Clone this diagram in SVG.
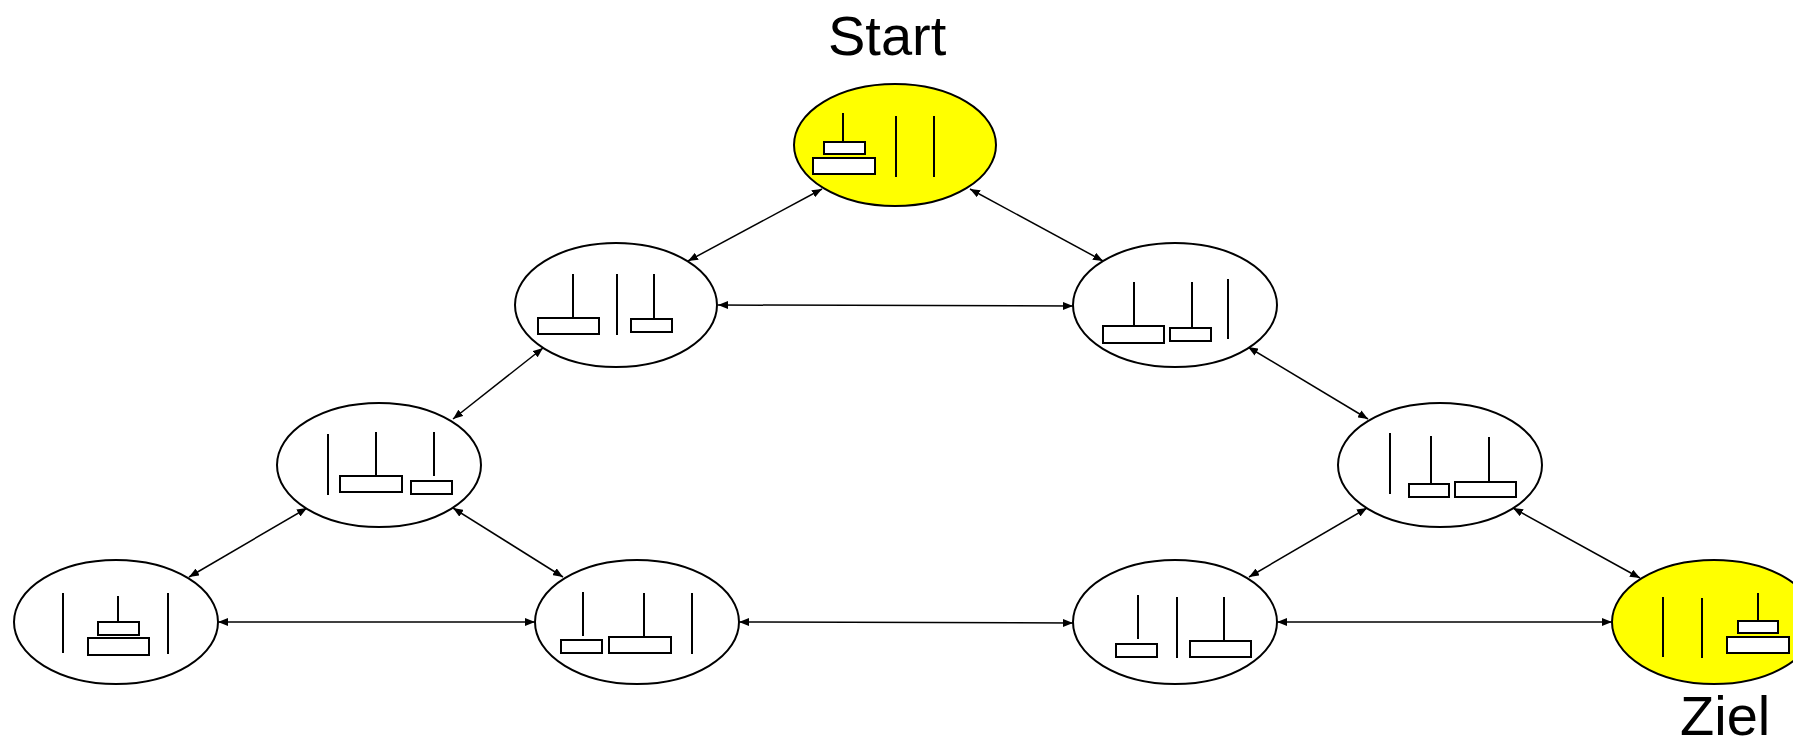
<svg xmlns="http://www.w3.org/2000/svg" width="1793" height="740" viewBox="0 0 1793 740">
<defs>
<style>
.node ellipse{stroke:#000;stroke-width:2;fill:#fff}
.node.goal ellipse{fill:#ffff00}
.node line{stroke:#000;stroke-width:2}
.node rect{stroke:#000;stroke-width:2;fill:#fff}
.edges line{stroke:#000;stroke-width:1.5;marker-start:url(#ah);marker-end:url(#ah)}
.lbl{font-family:"Liberation Sans",Arial,sans-serif;font-size:56px;fill:#000}
</style>
<marker id="ah" viewBox="0 0 10 8" refX="10" refY="4" markerWidth="10" markerHeight="8" markerUnits="userSpaceOnUse" orient="auto-start-reverse">
<path d="M0,0 L10,4 L0,8 Z" fill="#000"/>
</marker>
</defs>
<rect width="1793" height="740" fill="#fff"/>
<g class="edges">
<line x1="688" y1="261" x2="822" y2="189"/>
<line x1="970" y1="189" x2="1103" y2="261"/>
<line x1="718" y1="305" x2="1073" y2="306"/>
<line x1="543" y1="348" x2="453" y2="419"/>
<line x1="1248" y1="347" x2="1368" y2="419"/>
<line x1="307" y1="508" x2="189" y2="577"/>
<line x1="453" y1="508" x2="563" y2="577"/>
<line x1="218" y1="622" x2="535" y2="622"/>
<line x1="739" y1="622" x2="1073" y2="623"/>
<line x1="1277" y1="622" x2="1612" y2="622"/>
<line x1="1367" y1="508" x2="1249" y2="577"/>
<line x1="1513" y1="508" x2="1640" y2="578"/>
</g>
<g id="start" class="node goal">
<ellipse cx="895" cy="145" rx="101" ry="61"/>
<line x1="843" y1="113" x2="843" y2="142"/>
<rect x="824" y="142" width="41" height="12"/>
<rect x="813" y="158" width="62" height="16"/>
<line x1="896" y1="116" x2="896" y2="177"/>
<line x1="934" y1="116" x2="934" y2="177"/>
</g>
<g id="n2" class="node">
<ellipse cx="616" cy="305" rx="101" ry="62"/>
<line x1="573" y1="274" x2="573" y2="318"/>
<rect x="538" y="318" width="61" height="16"/>
<line x1="617" y1="274" x2="617" y2="335"/>
<line x1="654" y1="274" x2="654" y2="319"/>
<rect x="631" y="319" width="41" height="13"/>
</g>
<g id="n3" class="node">
<ellipse cx="1175" cy="305" rx="102" ry="62"/>
<line x1="1134" y1="282" x2="1134" y2="326"/>
<rect x="1103" y="326" width="61" height="17"/>
<line x1="1192" y1="282" x2="1192" y2="328"/>
<rect x="1170" y="328" width="41" height="13"/>
<line x1="1228" y1="279" x2="1228" y2="339"/>
</g>
<g id="n4" class="node">
<ellipse cx="379" cy="465" rx="102" ry="62"/>
<line x1="328" y1="434" x2="328" y2="495"/>
<line x1="376" y1="432" x2="376" y2="476"/>
<rect x="340" y="476" width="62" height="16"/>
<line x1="434" y1="432" x2="434" y2="476"/>
<rect x="411" y="481" width="41" height="13"/>
</g>
<g id="n5" class="node">
<ellipse cx="1440" cy="465" rx="102" ry="62"/>
<line x1="1390" y1="433" x2="1390" y2="494"/>
<line x1="1431" y1="436" x2="1431" y2="484"/>
<rect x="1409" y="484" width="40" height="13"/>
<line x1="1489" y1="437" x2="1489" y2="482"/>
<rect x="1455" y="482" width="61" height="15"/>
</g>
<g id="n6" class="node">
<ellipse cx="116" cy="622" rx="102" ry="62"/>
<line x1="63" y1="593" x2="63" y2="653"/>
<line x1="118" y1="596" x2="118" y2="622"/>
<rect x="98" y="622" width="41" height="13"/>
<rect x="88" y="638" width="61" height="17"/>
<line x1="168" y1="593" x2="168" y2="654"/>
</g>
<g id="n7" class="node">
<ellipse cx="637" cy="622" rx="102" ry="62"/>
<line x1="583" y1="592" x2="583" y2="636"/>
<rect x="561" y="640" width="41" height="13"/>
<line x1="644" y1="593" x2="644" y2="637"/>
<rect x="609" y="637" width="62" height="16"/>
<line x1="692" y1="593" x2="692" y2="654"/>
</g>
<g id="n8" class="node">
<ellipse cx="1175" cy="622" rx="102" ry="62"/>
<line x1="1138" y1="595" x2="1138" y2="639"/>
<rect x="1116" y="644" width="41" height="13"/>
<line x1="1177" y1="597" x2="1177" y2="658"/>
<line x1="1224" y1="597" x2="1224" y2="641"/>
<rect x="1190" y="641" width="61" height="16"/>
</g>
<g id="ziel" class="node goal">
<ellipse cx="1714" cy="622" rx="102" ry="62"/>
<line x1="1663" y1="597" x2="1663" y2="657"/>
<line x1="1702" y1="598" x2="1702" y2="658"/>
<line x1="1758" y1="593" x2="1758" y2="621"/>
<rect x="1738" y="621" width="40" height="12"/>
<rect x="1727" y="637" width="62" height="16"/>
</g>
<text class="lbl" x="828" y="55">Start</text>
<text class="lbl" x="1680" y="735">Ziel</text>
</svg>
